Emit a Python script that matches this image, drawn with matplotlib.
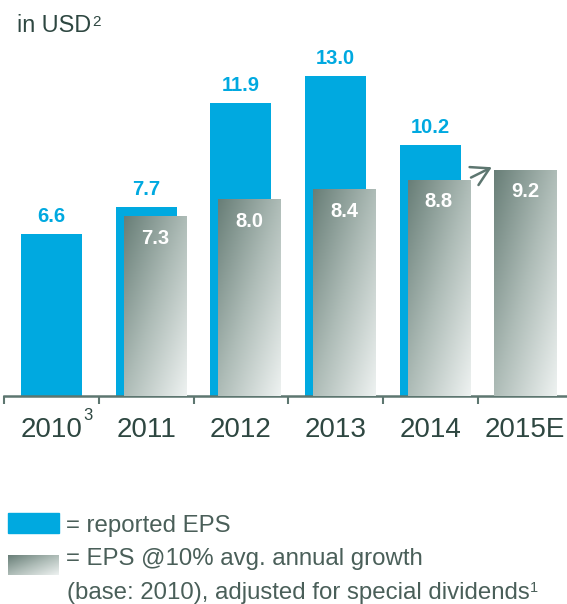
import numpy as np
import matplotlib
matplotlib.use("Agg")
import matplotlib.pyplot as plt
from matplotlib.colors import LinearSegmentedColormap
from matplotlib.patches import Rectangle

# ---- data ----
categories = ["2010", "2011", "2012", "2013", "2014", "2015E"]
reported_eps = [6.6, 7.7, 11.9, 13.0, 10.2, None]
adjusted_eps = [None, 7.3, 8.0, 8.4, 8.8, 9.2]
title_text = "in USD"
legend_reported = "= reported EPS"
legend_adjusted = ["= EPS @10% avg. annual growth",
                   "(base: 2010), adjusted for special dividends"]

# ---- style ----
BLUE = "#00a9e0"
AXIS_COLOR = "#5d7670"
DARK_TEXT = "#2e4741"
LEGEND_TEXT = "#4a5f59"
gray_cmap = LinearSegmentedColormap.from_list("steel", ["#687e77", "#aebcb7", "#eef2f1"])
FONT = "Liberation Sans"
plt.rcParams["font.family"] = [FONT, "DejaVu Sans"]

W, H = 567, 604
fig = plt.figure(figsize=(W / 100, H / 100), dpi=100)

axis_y_px = 396
px_per_unit = 24.6
ymax = 14.0
ax = fig.add_axes([4.3 / W, (H - axis_y_px) / H, 568 / W, ymax * px_per_unit / H])
ax.set_xlim(-0.5, len(categories) - 0.5)
ax.set_ylim(0, ymax)

bar_w = 0.645
gray_w = 0.655
gray_shift = 0.09

# gradient running from the upper-left corner to the lower-right corner
gx, gy = np.meshgrid(np.linspace(0, 1, 120), np.linspace(0, 1, 200))
gradient = 0.5 * (gx + gy)

for i, v in enumerate(reported_eps):
    if v is None:
        continue
    ax.bar(i, v, width=bar_w, color=BLUE, zorder=2, linewidth=0)
    ax.annotate(f"{v:.1f}", xy=(i, v), xytext=(0, 8.5), textcoords="offset points",
                ha="center", va="baseline", fontsize=14.5, fontweight="bold",
                color=BLUE, annotation_clip=False)

for i, v in enumerate(adjusted_eps):
    if v is None:
        continue
    xc = i + (gray_shift if reported_eps[i] is not None else 0.0)
    bars = ax.bar(xc, v, width=gray_w, color="none", zorder=3, linewidth=0)
    patch = bars.patches[0]
    im = ax.imshow(gradient, cmap=gray_cmap, vmin=0, vmax=1, origin="upper",
                   extent=[xc - gray_w / 2, xc + gray_w / 2, 0, v],
                   aspect="auto", zorder=3, interpolation="bilinear")
    im.set_clip_path(patch)
    ax.annotate(f"{v:.1f}", xy=(xc, v), xytext=(0, -20), textcoords="offset points",
                ha="center", va="baseline", fontsize=14.5, fontweight="bold",
                color="white", zorder=5)

ax.set_xlim(-0.5, len(categories) - 0.5)
ax.set_ylim(0, ymax)

# arrow pointing from 2014 towards the 2015 estimate
ax.annotate("", xy=(4.65, 9.3), xytext=(4.43, 8.88),
            arrowprops=dict(arrowstyle="->,head_length=1.25,head_width=0.72",
                            color=AXIS_COLOR, lw=1.8, mutation_scale=10,
                            shrinkA=0, shrinkB=0),
            annotation_clip=False)

# axes styling
for side in ["top", "right", "left"]:
    ax.spines[side].set_visible(False)
ax.spines["bottom"].set_color(AXIS_COLOR)
ax.spines["bottom"].set_linewidth(1.8)
ax.set_yticks([])
ax.set_xticks(range(len(categories)))
ax.set_xticklabels(categories)
ax.set_xticks(np.arange(-0.5, len(categories), 1.0), minor=True)
ax.tick_params(axis="x", which="major", length=0, pad=15, labelsize=20,
               labelcolor=DARK_TEXT)
ax.tick_params(axis="x", which="minor", length=6, width=1.5, color=AXIS_COLOR,
               direction="out")

# footnote marker on the first year
first_label = ax.get_xticklabels()[0]
ax.annotate("3", xy=(1, 1), xycoords=first_label, xytext=(0.3, 6.5),
            textcoords="offset points", ha="left", va="top", fontsize=12,
            color=DARK_TEXT)

# title with footnote marker
title = fig.text(17.3 / W, (H - 31.7) / H, title_text, ha="left", va="baseline",
                 fontsize=16.8, color=DARK_TEXT)
fig.text(0, 0, "")
plt.annotate("2", xy=(1, 1), xycoords=title, xytext=(0.3, -1),
             textcoords="offset points", ha="left", va="top",
             fontsize=11, color=DARK_TEXT, annotation_clip=False)

# legend
fig.patches.append(Rectangle((8 / W, (H - 533.4) / H), 51 / W, 20.6 / H,
                             transform=fig.transFigure, color=BLUE, zorder=1))
sw = fig.add_axes([8 / W, (H - 575) / H, 51 / W, 20 / H])
sw.imshow(gradient, cmap=gray_cmap, vmin=0, vmax=1, aspect="auto",
          interpolation="bilinear")
sw.axis("off")

fig.text(65.8 / W, (H - 532.3) / H, legend_reported, ha="left", va="baseline",
         fontsize=17.3, color=LEGEND_TEXT)
fig.text(65.8 / W, (H - 565) / H, legend_adjusted[0], ha="left", va="baseline",
         fontsize=17.3, color=LEGEND_TEXT)
line3 = fig.text(67 / W, (H - 598.5) / H, legend_adjusted[1], ha="left",
                 va="baseline", fontsize=17.3, color=LEGEND_TEXT)
plt.annotate("1", xy=(1, 1), xycoords=line3, xytext=(0.3, 0),
             textcoords="offset points", ha="left", va="top",
             fontsize=10.5, color=LEGEND_TEXT, annotation_clip=False)

fig.savefig("out.png", dpi=100)
